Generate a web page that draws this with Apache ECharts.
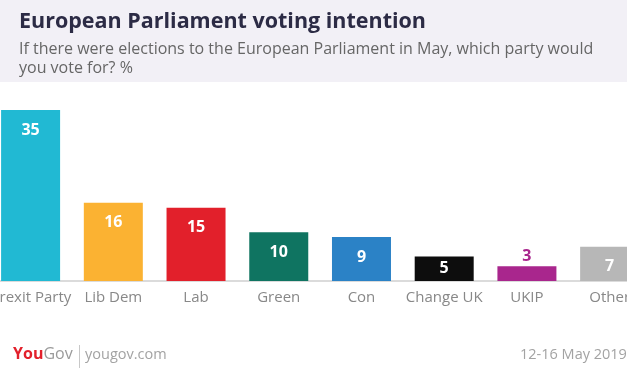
<!DOCTYPE html>
<html>
<head>
<meta charset="utf-8">
<script src="https://cdn.jsdelivr.net/npm/echarts@6/dist/echarts.min.js"></script>
<style>
  html, body { margin: 0; padding: 0; background: #fff; overflow: hidden; }
  /* the first and last bars run past the picture edges, so the chart is a bit wider than the window */
  #chart { position: absolute; left: -13px; top: 0; width: 664px; height: 376px; }
</style>
</head>
<body>
<div id="chart"></div>
<script>
const parties = ['Brexit Party', 'Lib Dem', 'Lab', 'Green', 'Con', 'Change UK', 'UKIP', 'Other']
const shares = [35, 16, 15, 10, 9, 5, 3, 7]
const partyColors = ['#21b9d3', '#fbb232', '#e2202b', '#0f7461', '#2b82c6', '#0d0d0d', '#a9268d', '#b7b7b7']

const chart = echarts.init(document.getElementById('chart'))
const dx = 13 // offset of the container

function labelFor(v, i) {
  if (parties[i] === 'UKIP') return { position: 'top', distance: 2, color: partyColors[i] }
  if (v <= 5) return { position: 'inside', color: '#fff' }
  return { position: 'insideTop', distance: 12, color: '#fff' }
}

chart.setOption({
  animation: false,
  title: {
    text: 'European Parliament voting intention',
    subtext: 'If there were elections to the European Parliament in May, which party would\nyou vote for? %',
    left: 14 + dx,
    top: 6,
    itemGap: 7,
    textStyle: { fontFamily: 'Open Sans', fontWeight: 'bold', fontSize: 21.5, color: '#2c2b45' },
    subtextStyle: { fontFamily: 'Open Sans', fontSize: 16, color: '#666', lineHeight: 19 },
  },
  graphic: [
    { type: 'rect', z: -10, shape: { x: 0, y: 0, width: 664, height: 82 }, style: { fill: '#f2f0f6' } },
    {
      type: 'text', left: 13 + dx, top: 346,
      style: {
        text: '{a|You}{b|Gov}',
        rich: {
          a: { fontFamily: 'Open Sans', fontWeight: 'bold', fontSize: 16, fill: '#e2202b' },
          b: { fontFamily: 'Open Sans', fontSize: 16, fill: '#9a9a9a' },
        },
      },
    },
    { type: 'line', shape: { x1: 79.5 + dx, y1: 345, x2: 79.5 + dx, y2: 368 }, style: { stroke: '#c8c8c8', lineWidth: 1 } },
    { type: 'text', left: 85 + dx, top: 347, style: { text: 'yougov.com', fontFamily: 'Open Sans', fontSize: 14.5, fill: '#a3a3a3' } },
    { type: 'text', left: 520 + dx, top: 347, style: { text: '12-16 May 2019', fontFamily: 'Open Sans', fontSize: 14.5, fill: '#a3a3a3' } },
  ],
  grid: { left: 0, right: 0, top: 110, bottom: 95 },
  xAxis: {
    type: 'category',
    data: parties,
    axisTick: { show: false },
    axisLine: { lineStyle: { color: '#cfcfcf', width: 1.5 } },
    axisLabel: { interval: 0, margin: 9, fontFamily: 'Open Sans', fontSize: 15, color: '#888' },
  },
  yAxis: { type: 'value', min: 0, max: 35, show: false, splitLine: { show: false } },
  series: [{
    type: 'bar',
    barWidth: 59,
    data: shares.map((v, i) => ({
      value: v,
      itemStyle: { color: partyColors[i] },
      label: labelFor(v, i),
    })),
    label: { show: true, fontFamily: 'Open Sans', fontWeight: 'bold', fontSize: 16 },
  }],
})
</script>
</body>
</html>
